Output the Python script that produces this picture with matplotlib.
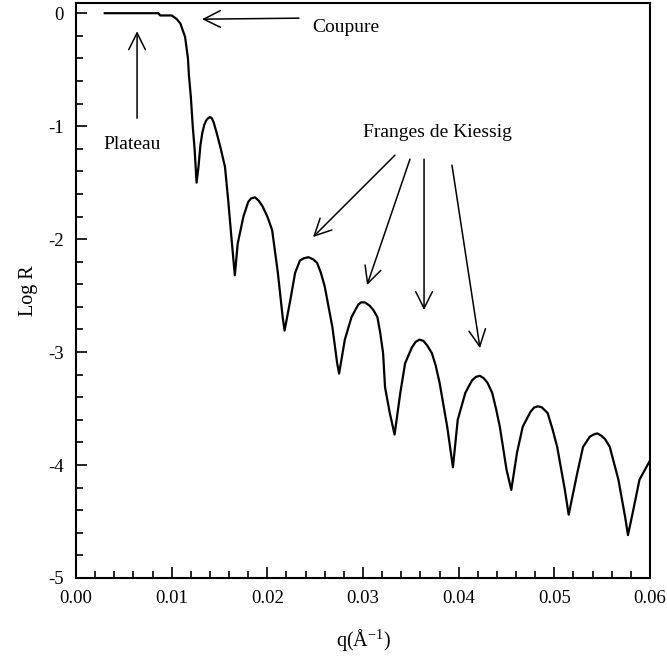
import matplotlib
matplotlib.use('Agg')
import matplotlib.pyplot as plt
from matplotlib.ticker import MultipleLocator, FormatStrFormatter

plt.rcParams['font.family'] = ['Liberation Serif', 'DejaVu Serif']
plt.rcParams['mathtext.fontset'] = 'custom'
plt.rcParams['mathtext.rm'] = 'Liberation Serif'

# reflectivity curve
q = [0.0030, 0.0086, 0.0088, 0.0100, 0.0105, 0.0109, 0.0114, 0.0117, 0.0118,
     0.0120, 0.0122, 0.0124, 0.0126, 0.0128, 0.0130, 0.0132, 0.0134, 0.0136,
     0.0138, 0.0140, 0.0142, 0.0144, 0.0147, 0.0151, 0.01557, 0.0159, 0.0163,
     0.0166,
     0.0169, 0.0175, 0.0180, 0.0183, 0.0187, 0.0191, 0.0195, 0.0200, 0.0205,
     0.0211, 0.0216, 0.0218,
     0.0224, 0.0229, 0.0234, 0.0238, 0.0243, 0.0248, 0.0252, 0.0256, 0.0260,
     0.0268, 0.0273, 0.0275,
     0.0281, 0.0288, 0.0295, 0.0298, 0.0302, 0.0307, 0.0311, 0.0315, 0.0318,
     0.0321, 0.0323, 0.0328, 0.0333,
     0.0339, 0.0344, 0.0351, 0.0355, 0.0359, 0.0363, 0.0367, 0.0372, 0.0376,
     0.0380, 0.0388, 0.0394,
     0.0399, 0.0407, 0.0414, 0.0418, 0.0422, 0.0426, 0.0430, 0.0435, 0.0439,
     0.0443, 0.0450, 0.0455,
     0.0461, 0.0467, 0.0475, 0.0479, 0.0483, 0.0487, 0.0493, 0.0498, 0.0503,
     0.0511, 0.0515,
     0.0524, 0.0530, 0.0537, 0.0541, 0.0545, 0.0549, 0.0553, 0.0558, 0.0562,
     0.0567, 0.0574, 0.0577,
     0.0582, 0.0589, 0.0600]
log_r = [0.0, 0.0, -0.02, -0.02, -0.05, -0.09, -0.21, -0.40, -0.55,
         -0.74, -1.00, -1.21, -1.50, -1.36, -1.17, -1.06, -0.99, -0.95,
         -0.93, -0.92, -0.93, -0.97, -1.06, -1.19, -1.36, -1.65, -2.04,
         -2.32,
         -2.04, -1.80, -1.67, -1.64, -1.63, -1.66, -1.71, -1.80, -1.92,
         -2.30, -2.69, -2.81,
         -2.54, -2.30, -2.19, -2.17, -2.16, -2.18, -2.21, -2.30, -2.42,
         -2.78, -3.10, -3.19,
         -2.89, -2.69, -2.58, -2.56, -2.56, -2.59, -2.63, -2.69, -2.83,
         -3.01, -3.31, -3.54, -3.73,
         -3.36, -3.10, -2.96, -2.91, -2.89, -2.90, -2.94, -3.01, -3.12,
         -3.27, -3.66, -4.02,
         -3.60, -3.36, -3.25, -3.22, -3.21, -3.23, -3.27, -3.36, -3.50,
         -3.66, -4.04, -4.22,
         -3.89, -3.66, -3.53, -3.49, -3.48, -3.49, -3.54, -3.68, -3.84,
         -4.22, -4.44,
         -4.07, -3.84, -3.75, -3.73, -3.72, -3.74, -3.77, -3.84, -3.97,
         -4.13, -4.46, -4.62,
         -4.42, -4.13, -3.96]

# Kiessig fringe arrows: tail and tip of each one
kiessig_tails = [(0.03334, -1.257), (0.03491, -1.292), (0.03638, -1.292), (0.03930, -1.345)]
kiessig_tips = [(0.02477, -1.982), (0.03042, -2.407), (0.03638, -2.628), (0.04223, -2.965)]

fig = plt.figure(figsize=(6.67, 6.58), dpi=100)
ax = fig.add_axes([0.114, 0.1216, 0.8605, 0.8738])

ax.plot(q, log_r, color='black', lw=1.6)

ax.set_xlim(0, 0.06)
ax.set_ylim(-5, 0.09)
ax.xaxis.set_major_locator(MultipleLocator(0.01))
ax.xaxis.set_minor_locator(MultipleLocator(0.002))
ax.yaxis.set_major_locator(MultipleLocator(1))
ax.yaxis.set_minor_locator(MultipleLocator(0.2))
ax.xaxis.set_major_formatter(FormatStrFormatter('%.2f'))
ax.yaxis.set_major_formatter(FormatStrFormatter('%d'))
ax.tick_params(which='both', direction='in', top=False, right=False, width=1.2,
               labelsize=13.5)
ax.tick_params(which='major', length=8, pad=9)
ax.tick_params(which='minor', length=5)
for s in ax.spines.values():
    s.set_linewidth(1.5)

ax.set_xlabel(r'q(Å$^{\mathrm{-1}}$)', fontsize=14.5, labelpad=14)
ax.set_ylabel('Log R', fontsize=14.5, labelpad=7)

arrow = dict(arrowstyle='->,head_length=0.6,head_width=0.3', color='black',
             lw=1.1, mutation_scale=20, shrinkA=0, shrinkB=0)

ax.annotate('', xy=(0.01317, -0.053), xytext=(0.0233, -0.044), arrowprops=arrow)
ax.text(0.0247, -0.13, 'Coupure', fontsize=14, ha='left', va='center')

ax.annotate('', xy=(0.00638, -0.16), xytext=(0.00638, -0.93), arrowprops=arrow)
ax.text(0.00585, -1.16, 'Plateau', fontsize=14, ha='center', va='center')

ax.text(0.0378, -1.06, 'Franges de Kiessig', fontsize=14, ha='center', va='center')
for tail, tip in zip(kiessig_tails, kiessig_tips):
    ax.annotate('', xy=tip, xytext=tail, arrowprops=arrow)

fig.savefig('out.png', dpi=100)
